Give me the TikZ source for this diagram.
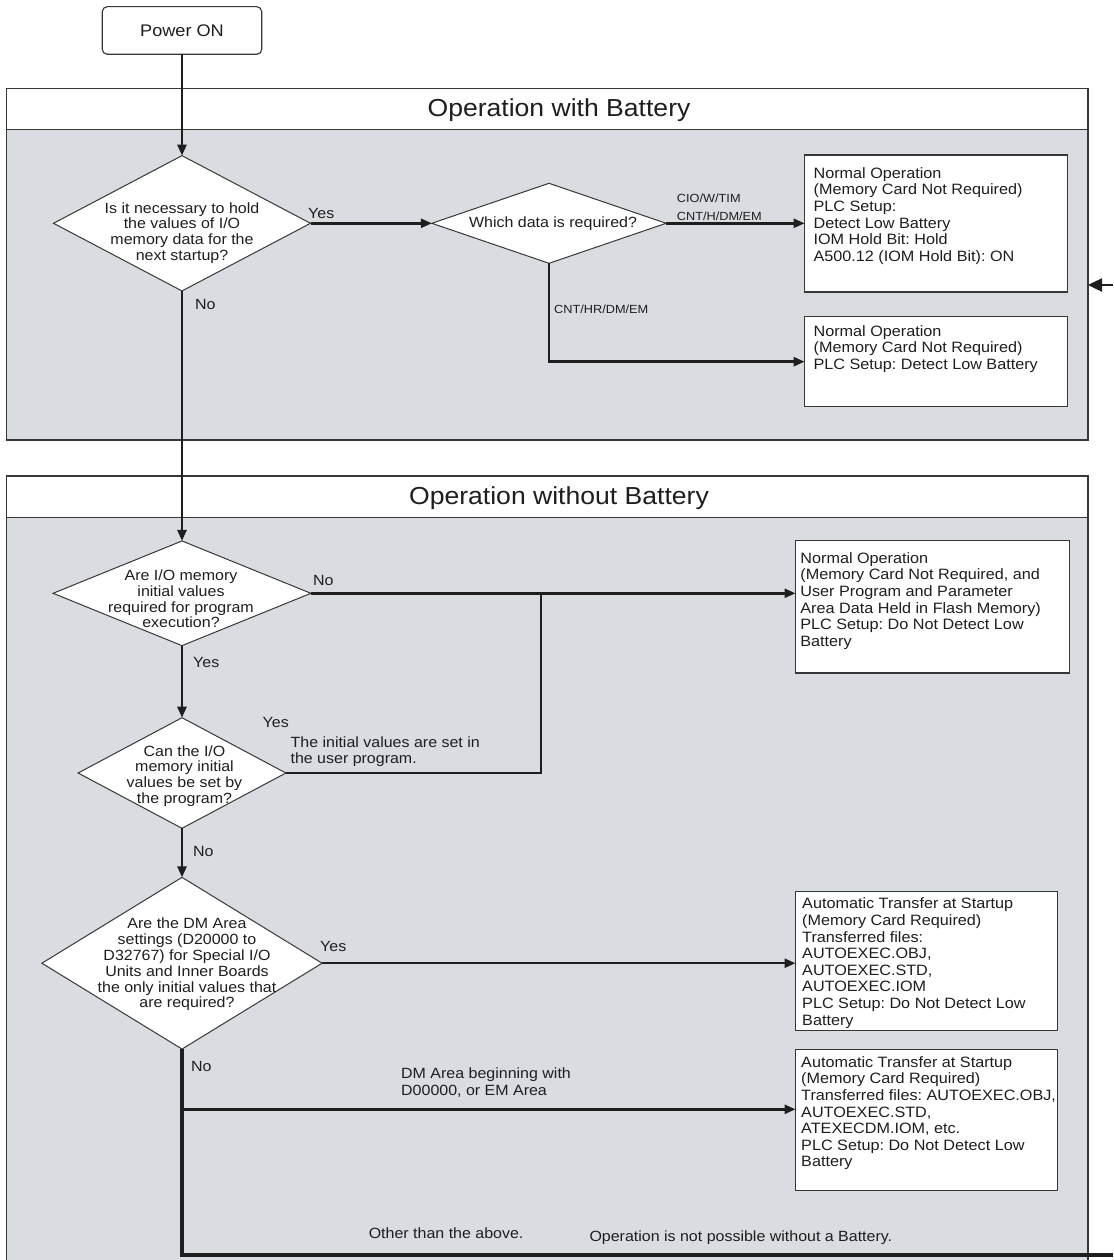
\documentclass[tikz,border=0pt]{standalone}
\usepackage{fontspec}
\setmainfont{Liberation Sans}[FakeStretch=1.08]
\usetikzlibrary{shapes.geometric,arrows.meta,calc}
\definecolor{panel}{RGB}{217,220,225}
\definecolor{edge}{RGB}{55,55,55}
\definecolor{ink}{RGB}{30,30,30}
\frenchspacing
\begin{document}
\begin{tikzpicture}[x=1pt,y=-1pt,
  conn/.style={draw=ink, line width=2.5pt, -{Triangle[length=11pt,width=9pt]}},
  plainline/.style={draw=ink, line width=2.5pt},
  heavy/.style={draw=ink, line width=4.8pt, line join=miter},
  frame/.style={fill=panel, inner sep=0pt, outer sep=0pt, anchor=north west},
  frameedge/.style={draw=edge, line width=1.1pt},
  band/.style={draw=edge, fill=white, line width=1.1pt, inner sep=0pt, outer sep=0pt, anchor=north west},
  ttl/.style={inner sep=0pt, font=\fontsize{24.6}{28}\selectfont, text=ink},
  dia/.style={diamond, draw=edge, fill=white, line width=1pt, inner sep=0pt, outer sep=0pt},
  dtext/.style={align=center, inner sep=0pt, font=\fontsize{14.8}{15.8}\selectfont, text=ink},
  obox/.style={draw=edge, fill=white, line width=1.1pt, inner sep=0pt, outer sep=0pt, anchor=north west},
  otext/.style={align=left, inner sep=0pt, anchor=north west, font=\fontsize{15}{16.6}\selectfont, text=ink},
  lab/.style={inner sep=0pt, anchor=west, align=left, font=\fontsize{14.8}{16.6}\selectfont, text=ink},
  slab/.style={inner sep=0pt, anchor=west, font=\fontsize{11.8}{14}\selectfont, text=ink},
]
\useasboundingbox (0,0) rectangle (1113,1260);

% panels
\node[frame, draw=edge, line width=1.1pt, minimum width=1081.6pt, minimum height=351.7pt] (f1) at (6.4,88.3) {};
\node[band, minimum width=1081.6pt, minimum height=41pt] (t1) at (6.4,88.3) {};
\node[ttl] (t1x) at (559,110) {Operation with Battery};

\node[frame, minimum width=1081.6pt, minimum height=784pt] (f2) at (6.4,476) {};
\draw[frameedge] (f2.south west) -- (f2.north west) -- (f2.north east) -- (f2.south east);
\node[band, minimum width=1081.6pt, minimum height=41.7pt] (t2) at (6.4,476) {};
\node[ttl] (t2x) at (559,498) {Operation without Battery};

% start
\node[draw=edge, fill=white, rounded corners=5pt, line width=1.1pt, minimum width=159.5pt, minimum height=47.6pt, inner sep=0pt, outer sep=0pt, font=\fontsize{16.8}{18}\selectfont, text=ink] (pon) at (182,30.5) {Power ON};

% decisions
\node[dia, minimum width=257pt, minimum height=135.3pt] (d1) at (182,223.3) {};
\node[dtext] (d1t) at (182,233) {Is it necessary to hold\\the values of I/O\\memory data for the\\next startup?};

\node[dia, minimum width=234.3pt, minimum height=80pt] (dw) at (549,223.3) {};
\node[dtext] (dwt) at (553,224) {Which data is required?};

\node[dia, minimum width=257.8pt, minimum height=104.7pt] (d2) at (182,593.3) {};
\node[dtext] (d2t) at (181,599) {Are I/O memory\\initial values\\required for program\\execution?};

\node[dia, minimum width=207.8pt, minimum height=110.6pt] (d3) at (182,773) {};
\node[dtext] (d3t) at (184.5,776) {Can the I/O\\memory initial\\values be set by\\the program?};

\node[dia, minimum width=280.2pt, minimum height=171.7pt] (d4) at (182,963.2) {};
\node[dtext] (d4t) at (187,964.5) {Are the DM Area\\settings (D20000 to\\D32767) for Special I/O\\Units and Inner Boards\\the only initial values that\\are required?};

% outcome boxes
\node[obox, minimum width=262.8pt, minimum height=137pt] (b1) at (804.6,155) {};
\node[otext] (b1t) at (813.4,166.5) {\strut Normal Operation\\(Memory Card Not Required)\\PLC Setup:\\Detect Low Battery\\IOM Hold Bit: Hold\\A500.12 (IOM Hold Bit): ON};

\node[obox, minimum width=262.8pt, minimum height=90pt] (b2) at (804.6,316.7) {};
\node[otext] (b2t) at (813.4,324.5) {\strut Normal Operation\\(Memory Card Not Required)\\PLC Setup: Detect Low Battery};

\node[obox, minimum width=273.7pt, minimum height=132.3pt] (b3) at (795.5,540.7) {};
\node[otext] (b3t) at (800.2,551.5) {\strut Normal Operation\\(Memory Card Not Required, and\\User Program and Parameter\\Area Data Held in Flash Memory)\\PLC Setup: Do Not Detect Low\\Battery};

\node[obox, minimum width=262pt, minimum height=139pt] (b4) at (795.5,891.3) {};
\node[otext] (b4t) at (802,897.1) {\strut Automatic Transfer at Startup\\(Memory Card Required)\\Transferred files:\\AUTOEXEC.OBJ,\\AUTOEXEC.STD,\\AUTOEXEC.IOM\\PLC Setup: Do Not Detect Low\\Battery};

\node[obox, minimum width=262pt, minimum height=141pt] (b5) at (795.5,1049.7) {};
\node[otext] (b5t) at (801,1055.5) {\strut Automatic Transfer at Startup\\(Memory Card Required)\\Transferred files: AUTOEXEC.OBJ,\\AUTOEXEC.STD,\\ATEXECDM.IOM, etc.\\PLC Setup: Do Not Detect Low\\Battery};

% connectors
\coordinate (j) at (541,593.3);
\coordinate (c5) at (182,1109.3);
\coordinate (bl) at (182,1255);
\coordinate (br) at (1113,1255);
\coordinate (rin) at (1113,285);

\draw[conn] (pon.south) -- (d1.north);
\draw[conn] (d1.east) -- (dw.west);
\draw[conn] (dw.east) -- (dw.east -| b1.west);
\draw[conn] (dw.south) |- (b2.west);
\draw[conn] (d1.south) -- (d2.north);
\draw[conn] (d2.east) -- (d2.east -| b3.west);
\draw[plainline] (d3.east) -| (j);
\draw[conn] (d2.south) -- (d3.north);
\draw[conn] (d3.south) -- (d4.north);
\draw[conn] (d4.east) -- (d4.east -| b4.west);
\draw[heavy] (d4.south) -- (bl) -- (br);
\draw[conn] (c5) -- (c5 -| b5.west);
\draw[draw=ink, line width=2.5pt, -{Triangle[length=14pt,width=13pt]}] (rin) -- (rin -| f1.east);

% labels
\node[lab] (l1) at (308,213) {Yes};
\node[lab] (l2) at (195,304) {No};
\node[slab] (l3) at (676.7,198.3) {CIO/W/TIM};
\node[slab] (l4) at (676.7,216.7) {CNT/H/DM/EM};
\node[slab] (l5) at (554,309.3) {CNT/HR/DM/EM};
\node[lab] (l6) at (313,580) {No};
\node[lab] (l7) at (193,662.7) {Yes};
\node[lab] (l8) at (262.5,722.7) {Yes};
\node[lab] (l9) at (290.4,751.5) {The initial values are set in\\the user program.};
\node[lab] (l10) at (193,851.7) {No};
\node[lab] (l11) at (320,946) {Yes};
\node[lab] (l12) at (191,1066) {No};
\node[lab] (l13) at (401,1082.4) {DM Area beginning with\\D00000, or EM Area};
\node[lab] (l14) at (368.6,1232.7) {Other than the above.};
\node[lab] (l15) at (589.3,1237.7) {Operation is not possible without a Battery.};
\end{tikzpicture}
\end{document}
